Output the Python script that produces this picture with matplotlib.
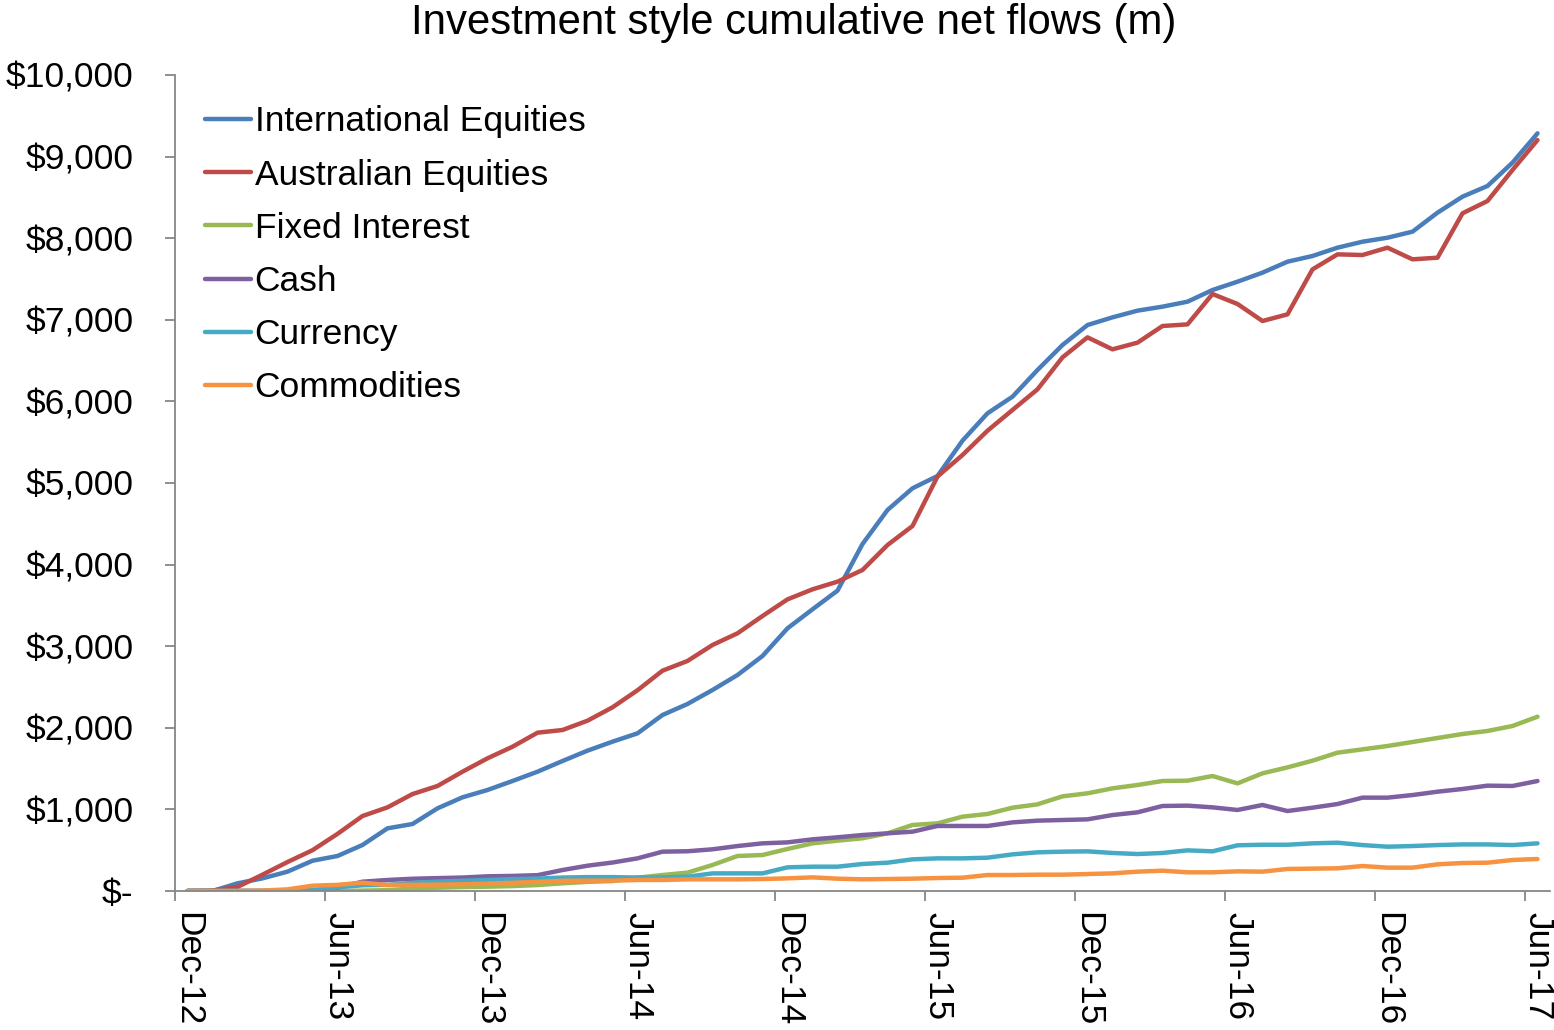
import pandas as pd
import matplotlib
matplotlib.use("Agg")
import matplotlib.pyplot as plt
from matplotlib.ticker import FixedLocator, FuncFormatter

plt.rcParams["font.family"] = ["Liberation Sans", "DejaVu Sans"]

# monthly cumulative net flows, Dec-12 .. Jun-17 ($m)
months = pd.date_range("2012-12-01", "2017-06-01", freq="MS")

intl_equities = [0, 0, 94, 155, 237, 371, 429, 564, 768, 821, 1013, 1148, 1238, 1348, 1462, 1593,
                 1720, 1830, 1932, 2157, 2292, 2463, 2647, 2880, 3219, 3452, 3681, 4252, 4669, 4935,
                 5086, 5519, 5854, 6058, 6385, 6691, 6936, 7030, 7112, 7161, 7222, 7365, 7467, 7578,
                 7712, 7782, 7884, 7957, 8006, 8080, 8313, 8509, 8640, 8926, 9285]
aus_equities = [0, 5, 50, 200, 355, 500, 700, 919, 1025, 1188, 1287, 1462, 1626, 1768, 1940, 1973,
                2087, 2251, 2460, 2700, 2819, 3015, 3158, 3370, 3574, 3697, 3791, 3934, 4240, 4473,
                5080, 5343, 5641, 5895, 6148, 6540, 6785, 6638, 6720, 6924, 6944, 7316, 7194, 6985,
                7067, 7618, 7802, 7794, 7884, 7741, 7761, 8305, 8456, 8836, 9203]
fixed_interest = [0, 0, 0, 0, 0, 0, 0, 5, 10, 30, 40, 48, 53, 60, 73, 94,
                  112, 122, 163, 196, 225, 319, 429, 441, 515, 584, 617, 646, 707, 809,
                  829, 911, 944, 1021, 1062, 1160, 1197, 1258, 1299, 1348, 1352, 1409, 1319, 1442,
                  1515, 1597, 1695, 1736, 1777, 1826, 1875, 1924, 1961, 2022, 2136]
cash = [0, 0, 0, 0, 0, 5, 40, 114, 135, 150, 158, 165, 180, 185, 194, 257,
        310, 349, 400, 482, 487, 511, 551, 584, 596, 633, 658, 686, 707, 727,
        797, 797, 797, 841, 862, 870, 878, 931, 964, 1042, 1046, 1025, 993, 1054,
        980, 1021, 1066, 1144, 1144, 1176, 1217, 1250, 1291, 1287, 1348]
currency = [0, 0, 0, 0, 0, 10, 45, 70, 75, 100, 115, 125, 135, 145, 152, 165,
            170, 170, 165, 167, 175, 216, 216, 216, 290, 298, 298, 331, 347, 388,
            400, 400, 408, 449, 474, 482, 486, 466, 453, 466, 498, 486, 560, 567,
            567, 584, 592, 563, 543, 551, 563, 571, 571, 563, 584]
commodities = [0, 0, 0, 5, 20, 65, 75, 102, 73, 75, 78, 82, 90, 100, 112, 125,
               127, 127, 135, 135, 143, 143, 143, 147, 155, 167, 151, 143, 147, 151,
               159, 163, 196, 196, 200, 200, 208, 216, 237, 249, 229, 229, 241, 237,
               270, 274, 278, 306, 286, 286, 327, 343, 347, 380, 392]

series = [
    ("International Equities", intl_equities, "#4A7EBB"),
    ("Australian Equities", aus_equities, "#BE4B48"),
    ("Fixed Interest", fixed_interest, "#98B954"),
    ("Cash", cash, "#7D60A0"),
    ("Currency", currency, "#46AAC5"),
    ("Commodities", commodities, "#F69240"),
]

W, H = 1554, 1030
fig = plt.figure(figsize=(W / 100, H / 100), dpi=100)
ax = fig.add_axes([175 / W, 1 - 891 / H, 1375 / W, 816 / H])

x = list(range(len(months)))
for name, vals, col in series:
    ax.plot(x, vals, color=col, lw=3.2, label=name, solid_joinstyle="round", solid_capstyle="round")

ax.set_xlim(-0.5, len(months) - 0.5)
ax.set_ylim(0, 10000)

axis_col = "#868686"
for s in ["top", "right"]:
    ax.spines[s].set_visible(False)
for s in ["left", "bottom"]:
    ax.spines[s].set_color(axis_col)
    ax.spines[s].set_linewidth(1.3)

# y axis: accounting style labels
ax.set_yticks(range(0, 10001, 1000))
ax.yaxis.set_major_formatter(FuncFormatter(lambda v, p: "$-" if v == 0 else "${:,.0f}".format(v)))
ax.tick_params(axis="y", direction="out", length=7, width=1.3, color=axis_col, pad=23, labelsize=25.5)

# x axis: labels on every 6th month, tick marks between categories
lab_pos = x[::6]
ax.set_xticks(lab_pos)
ax.set_xticklabels([months[i].strftime("%b-%y") for i in lab_pos], rotation=-90, va="top", ha="center")
ax.xaxis.set_minor_locator(FixedLocator([p - 0.5 for p in lab_pos]))
ax.tick_params(axis="x", which="major", length=0, pad=15, labelsize=25.5)
ax.tick_params(axis="x", which="minor", direction="out", length=7, width=1.3, color=axis_col)

fig.text(794 / W, 1 - 23 / H, "Investment style cumulative net flows (m)", ha="center", va="center", fontsize=30.2)

ax.legend(loc="upper left", bbox_to_anchor=(205 / W, 1 - 105.5 / H), bbox_transform=fig.transFigure,
          frameon=False, fontsize=25.5, handlelength=1.3, handletextpad=0.1, labelspacing=0.57,
          borderpad=0, borderaxespad=0)

plt.savefig("out.png", dpi=100)
